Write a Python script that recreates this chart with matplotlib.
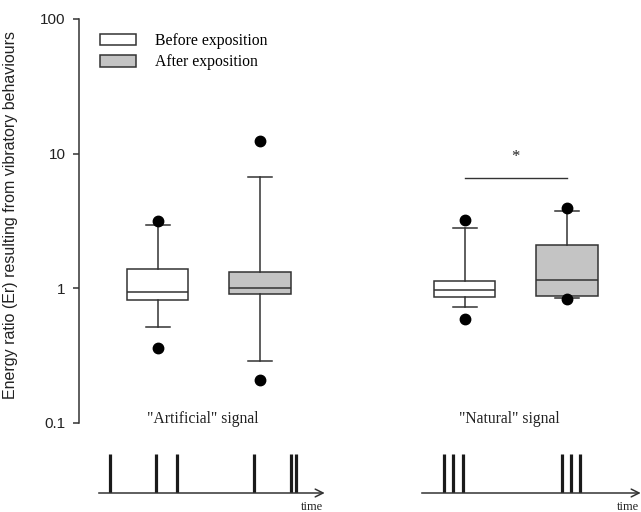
import matplotlib
matplotlib.use("Agg")
import matplotlib.pyplot as plt
from matplotlib.patches import Patch
from matplotlib.ticker import NullLocator

plt.rcParams["font.family"] = ["Liberation Sans", "DejaVu Sans"]
SERIF = ["Liberation Serif", "DejaVu Serif"]

# ---- data ----
groups = ['"Artificial" signal', '"Natural" signal']
conditions = ["Before exposition", "After exposition"]

# order: artificial before, artificial after, natural before, natural after
whislo = [0.515, 0.29, 0.73, 0.843]
q1 = [0.823, 0.902, 0.866, 0.877]
med = [0.943, 1.0, 0.971, 1.15]
q3 = [1.39, 1.32, 1.14, 2.09]
whishi = [2.95, 6.72, 2.81, 3.77]
outliers = [[0.36, 3.18], [0.21, 12.5], [0.594, 3.22], [0.837, 3.93]]

sig_pair = (2, 3)
sig_level = 6.6
sig_label = "*"

yticks = [0.1, 1, 10, 100]
ytick_labels = ["0.1", "1", "10", "100"]

# pulse times of the two stimulus signals (arbitrary time units)
artificial_pulses = [11.3, 57.6, 78.6, 155.6, 192.0, 197.0]
natural_pulses = [22.6, 31.6, 41.0, 140.3, 149.3, 158.6]
artificial_span = 226
natural_span = 219

# ---- style ----
W, H = 641, 512
EDGE = "#333333"
TEXT = "#222222"
FILLS = ["white", "#c4c4c4"]


def fx(px):
    return px / W


def fy(py):
    return 1 - py / H


fig = plt.figure(figsize=(W / 100, H / 100), dpi=100)
ax = fig.add_axes([fx(79), fy(423), fx(630) - fx(79), fy(19) - fy(423)])

positions = []
stats = []
for i in range(len(med)):
    g, c = divmod(i, 2)
    positions.append(g * 3 + c + 1)
    stats.append(dict(whislo=whislo[i], q1=q1[i], med=med[i], q3=q3[i],
                      whishi=whishi[i], fliers=outliers[i]))

lw = 1.1
bp = ax.bxp(stats, positions=positions, widths=0.6, capwidths=0.235,
            patch_artist=True, showfliers=True,
            boxprops=dict(edgecolor=EDGE, linewidth=lw),
            medianprops=dict(color=EDGE, linewidth=lw),
            whiskerprops=dict(color=EDGE, linewidth=lw),
            capprops=dict(color=EDGE, linewidth=lw),
            flierprops=dict(marker="o", markerfacecolor="black",
                            markeredgecolor="black", markersize=7.5))
for i, patch in enumerate(bp["boxes"]):
    patch.set_facecolor(FILLS[i % 2])

ax.set_yscale("log")
ax.set_ylim(0.1, 100)
ax.set_xlim(0.231, 5.617)
ax.set_yticks(yticks)
ax.set_yticklabels(ytick_labels)
ax.yaxis.set_minor_locator(NullLocator())
ax.set_xticks([])
for s in ("top", "right", "bottom"):
    ax.spines[s].set_visible(False)
ax.spines["left"].set_color(EDGE)
ax.spines["left"].set_linewidth(1.1)
ax.tick_params(axis="y", length=4.5, width=1.1, color=EDGE, pad=5,
               labelsize=11, labelcolor=TEXT)
ax.set_ylabel("Energy ratio (Er) resulting from vibratory behaviours",
              fontsize=11.5, color=TEXT)
ax.yaxis.set_label_coords(-0.111, 0.515)

# group labels
for g, name in enumerate(groups):
    ax.text(g * 3 + 1.5 - 0.06, 0.1065, name, ha="center", va="center",
            family=SERIF, fontsize=11.3, color=TEXT)

# significance bar
x0, x1 = positions[sig_pair[0]], positions[sig_pair[1]]
ax.plot([x0, x1], [sig_level, sig_level], color=EDGE, lw=1.0)
ax.text((x0 + x1) / 2, sig_level * 1.42, sig_label, ha="center", va="center",
        family=SERIF, fontsize=12, color=TEXT)

# legend
handles = [Patch(facecolor=FILLS[k], edgecolor=EDGE, linewidth=1.1)
           for k in range(2)]
ax.legend(handles, conditions, loc="upper left",
          bbox_to_anchor=(fx(100), fy(33)), bbox_transform=fig.transFigure,
          frameon=False, prop=dict(family=SERIF, size=11.3),
          handlelength=2.3, handleheight=0.72, handletextpad=1.2,
          labelspacing=0.35, borderpad=0, borderaxespad=0)


# stimulus time traces
def trace(left_px, span, pulses):
    tax = fig.add_axes([fx(left_px), fy(493), span / W, fy(454) - fy(493)])
    tax.set_xlim(0, span)
    tax.set_ylim(0, 1)
    tax.axis("off")
    tax.vlines(pulses, 0, 1, color="#1a1a1a", lw=2.3)
    tax.annotate("", xy=(span, 0), xytext=(0, 0), annotation_clip=False,
                 arrowprops=dict(arrowstyle="->", color=EDGE, lw=1.1,
                                 shrinkA=0, shrinkB=0, mutation_scale=14))
    tax.text(span - 13, -0.35, "time", ha="center", va="center",
             family=SERIF, fontsize=9, color=TEXT, clip_on=False)


trace(98.7, artificial_span, artificial_pulses)
trace(421.7, natural_span, natural_pulses)

fig.savefig("out.png", dpi=100)
